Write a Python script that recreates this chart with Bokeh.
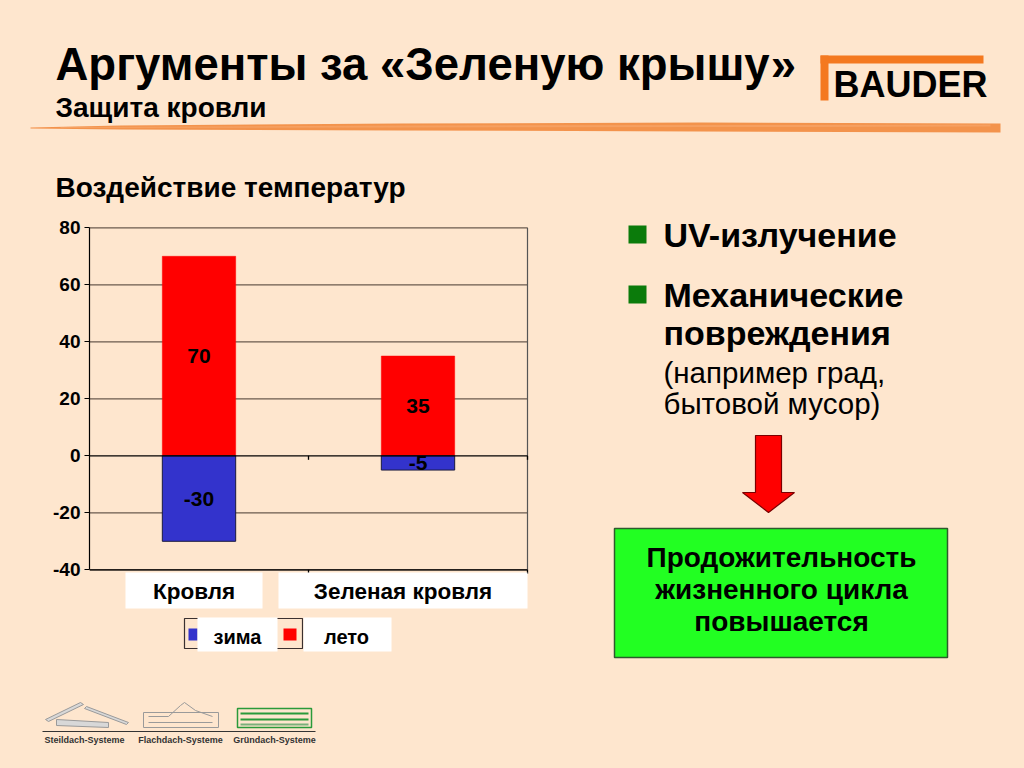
from bokeh.plotting import figure
from bokeh.models import Range1d, FixedTicker, ColumnDataSource, PrintfTickFormatter
from bokeh.layouts import column, row
from bokeh.core.properties import value
from bokeh.embed import file_html
from bokeh.resources import INLINE

# ---------------- data ----------------
categories = ["Кровля", "Зеленая кровля"]
winter = [-30, -5]      # зима
summer = [70, 35]       # лето
series_names = ["зима", "лето"]
y_ticks = [-40, -20, 0, 20, 40, 60, 80]

title_text = "Аргументы за «Зеленую крышу»"
subtitle_text = "Защита кровли"
chart_title = "Воздействие температур"
bullets = ["UV-излучение", "Механические"]
bullet2_more = ["повреждения"]
note_lines = ["(например град,", "бытовой мусор)"]
box_lines = ["Продожительность", "жизненного цикла", "повышается"]
footer_labels = ["Steildach-Systeme", "Flachdach-Systeme", "Gründach-Systeme"]

# ---------------- styles ----------------
BG = "#FEE6CE"
BLUE = "#3333CC"
RED = "#FF0000"
ORANGE = "#F47920"
ARIAL = value("Liberation Sans")


def deco_fig(w, h, x0, x1, y0, y1):
    f = figure(width=w, height=h, x_range=Range1d(x0, x1), y_range=Range1d(y1, y0),
               x_axis_location=None, y_axis_location=None, toolbar_location=None,
               title=None, output_backend="svg",
               min_border=0, min_border_left=0, min_border_right=0,
               min_border_top=0, min_border_bottom=0,
               background_fill_color=BG, border_fill_color=BG, outline_line_color=None)
    f.xgrid.visible = False
    f.ygrid.visible = False
    return f


def txt(f, x, y, s, size, style="bold", align="left", color="black"):
    f.text(x=[x], y=[y], text=[s], text_font=ARIAL, text_font_size=value(size),
           text_font_style=style, text_align=align, text_baseline="middle", text_color=color)


W, H = 1024, 768
HDR_H = 213
MID_H = 467
FT_H = H - HDR_H - MID_H

# ---------------- header ----------------
hdr = deco_fig(W, HDR_H, 0, W, 0, HDR_H)
txt(hdr, 55, 64, title_text, "45.5px")
txt(hdr, 55, 106.5, subtitle_text, "28px")
txt(hdr, 55, 186.5, chart_title, "28px")
# brush stroke
hdr.patch(x=[30, 120, 400, 700, 1000, 1000, 700, 400, 120, 30],
          y=[127, 125, 123, 122, 123, 132, 131, 130, 129, 128],
          fill_color="#F28A3E", line_color=None, fill_alpha=0.9)
hdr.patch(x=[60, 400, 800, 990, 990, 800, 400, 60],
          y=[126.5, 125, 124.5, 124, 126, 126.5, 127, 127.5],
          fill_color="#F6A466", line_color=None, fill_alpha=0.8)
# logo
hdr.quad(left=[820, 820], right=[983, 828], top=[55, 55], bottom=[63, 100],
         fill_color=ORANGE, line_color=None)
txt(hdr, 833, 84, "BAUDER", "36px")

# ---------------- chart + right panel ----------------
CH_Y0 = HDR_H
AX_LEFT = 89                   # x of value axis
PX_PER_CAT = 219.0
Y80_PX = 227.3
PX_PER_UNIT = 2.85
FRAME_L, FRAME_R, FRAME_T, FRAME_B = 89, W, 219, 665


def px2x(px):
    return (px - AX_LEFT) / PX_PER_CAT


def px2y(py):
    return 80 - (py - Y80_PX) / PX_PER_UNIT


ch = figure(width=W, height=MID_H,
            x_range=Range1d(px2x(FRAME_L), px2x(FRAME_R)),
            y_range=Range1d(px2y(FRAME_B), px2y(FRAME_T)),
            x_axis_location=None, y_axis_location="left", toolbar_location=None,
            title=None, output_backend="svg", background_fill_color=BG, border_fill_color=BG,
            outline_line_color=None,
            min_border_left=FRAME_L, min_border_right=W - FRAME_R,
            min_border_top=FRAME_T - CH_Y0, min_border_bottom=CH_Y0 + MID_H - FRAME_B)
ch.xgrid.visible = False
ch.ygrid.visible = False
ya = ch.yaxis[0]
ya.ticker = FixedTicker(ticks=y_ticks)
ya.formatter = PrintfTickFormatter(format="%d")
ya.bounds = (min(y_ticks), max(y_ticks))
ya.axis_line_color = "black"
ya.axis_line_width = 1.2
ya.major_tick_line_color = "black"
ya.major_tick_out = 5
ya.major_tick_in = 0
ya.minor_tick_line_color = None
ya.major_label_standoff = 4
ya.major_label_text_font = "Liberation Sans"
ya.major_label_text_font_size = "19px"
ya.major_label_text_font_style = "bold"
ya.major_label_text_color = "black"

n = len(categories)
xs = [i + 0.5 for i in range(n)]
ymin, ymax = min(y_ticks), max(y_ticks)

# gridlines
grid_y = [t for t in y_ticks if t != 0]
ch.segment(x0=[0] * len(grid_y), x1=[n] * len(grid_y), y0=grid_y, y1=grid_y,
           line_color="#6a5a4e", line_width=1.2)
ch.segment(x0=[n], x1=[n], y0=[ymin], y1=[ymax], line_color="#555555", line_width=1.2)

src = ColumnDataSource(dict(x=xs, cat=categories, winter=winter, summer=summer,
                            wmid=[v / 2 for v in winter], smid=[v / 2 for v in summer],
                            wl=[str(v) for v in winter], sl=[str(v) for v in summer]))
ch.vbar(x="x", width=0.335, bottom=0, top="summer", source=src,
        fill_color=RED, line_color=RED, line_width=0.5)
ch.vbar(x="x", width=0.335, bottom="winter", top=0, source=src,
        fill_color=BLUE, line_color="#1a1a40", line_width=1)

# category axis at zero and ticks
ch.segment(x0=[0], x1=[n], y0=[0], y1=[0], line_color="black", line_width=1.3)
ch.segment(x0=[0], x1=[n], y0=[ymin], y1=[ymin], line_color="black", line_width=1.3)
tick_len = 4 / PX_PER_UNIT
bx = list(range(1, n + 1))
ch.segment(x0=bx + bx, x1=bx + bx, y0=[0] * n + [ymin] * n,
           y1=[-tick_len] * n + [ymin - tick_len] * n, line_color="black", line_width=1.3)

# value labels
ch.text(x="x", y="smid", text="sl", source=src, text_font=ARIAL, text_font_size=value("21px"),
        text_font_style="bold", text_align="center", text_baseline="middle", text_color="black")
ch.text(x="x", y="wmid", text="wl", source=src, text_font=ARIAL, text_font_size=value("21px"),
        text_font_style="bold", text_align="center", text_baseline="middle", text_color="black")

# category label boxes (white)
cat_boxes = [(125, 262), (278, 527)]
ch.quad(left=[px2x(a) for a, b in cat_boxes], right=[px2x(b) for a, b in cat_boxes],
        top=[px2y(572)] * n, bottom=[px2y(608)] * n, fill_color="white", line_color=None)
ch.text(x=[px2x((a + b) / 2) for a, b in cat_boxes], y=[px2y(591)] * n, text=categories,
        text_font=ARIAL, text_font_size=value("22.5px"), text_font_style="bold",
        text_align="center", text_baseline="middle", text_color="black")

# legend
ch.quad(left=[px2x(184)], right=[px2x(302)], top=[px2y(618)], bottom=[px2y(648)],
        fill_color=None, line_color="#3a3030", line_width=1.2)
ch.quad(left=[px2x(188), px2x(283)], right=[px2x(197), px2x(296)],
        top=[px2y(628)] * 2, bottom=[px2y(640)] * 2, fill_color=[BLUE, RED], line_color=None)
ch.quad(left=[px2x(197), px2x(303)], right=[px2x(277), px2x(391)],
        top=[px2y(617)] * 2, bottom=[px2y(651)] * 2, fill_color="white", line_color=None)
ch.text(x=[px2x(237), px2x(346)], y=[px2y(636)] * 2, text=series_names,
        text_font=ARIAL, text_font_size=value("20px"), text_font_style="bold",
        text_align="center", text_baseline="middle", text_color="black")


def ptxt(x, y, s, size, style="bold", align="left"):
    ch.text(x=[px2x(x)], y=[px2y(y)], text=[s], text_font=ARIAL, text_font_size=value(size),
            text_font_style=style, text_align=align, text_baseline="middle", text_color="black")


# right panel: bullets
ch.quad(left=[px2x(628)] * 2, right=[px2x(646)] * 2, top=[px2y(225), px2y(285)],
        bottom=[px2y(243), px2y(303)], fill_color="#0B7B0B", line_color=None)
ptxt(663, 234, bullets[0], "34px")
ptxt(663, 294.5, bullets[1], "34px")
ptxt(663, 332, bullet2_more[0], "34px")
ptxt(663, 372, note_lines[0], "29.5px", style="normal")
ptxt(663, 403, note_lines[1], "29.5px", style="normal")
# arrow
ax_px = [755, 781, 781, 794, 768, 742, 755]
ay_px = [435, 435, 492, 492, 512, 492, 492]
ch.patch(x=[px2x(v) for v in ax_px], y=[px2y(v) for v in ay_px],
         fill_color=RED, line_color="#7a0000", line_width=1.2)
# green box
ch.quad(left=[px2x(614)], right=[px2x(947)], top=[px2y(528)], bottom=[px2y(657)],
        fill_color="#22FF22", line_color="#2d5a2d", line_width=1.5)
for i, s in enumerate(box_lines):
    ptxt(781, 557 + 32 * i, s, "28px", align="center")

# ---------------- footer ----------------
ft = deco_fig(W, FT_H, 0, W, HDR_H + MID_H, H)
ft.line(x=[42, 315], y=[731, 731], line_color="#333333", line_width=1)
# steep roof icon
ft.patch(x=[45, 80, 83, 48], y=[719, 702, 704, 721], fill_color="#d8d8d8", line_color="#9a9a9a")
ft.patch(x=[86, 128, 126, 84], y=[706, 722, 724, 708], fill_color="#d8d8d8", line_color="#9a9a9a")
ft.patch(x=[56, 108, 108, 56], y=[719, 722, 727, 725], fill_color="#d8d8d8", line_color="#9a9a9a")
# flat roof icon
ft.quad(left=[143], right=[218], top=[712], bottom=[727], fill_color=None, line_color="#9a9a9a")
ft.line(x=[148, 168, 180, 184, 195, 212], y=[716, 716, 705, 702, 710, 716], line_color="#9a9a9a")
ft.line(x=[148, 212], y=[722, 722], line_color="#9a9a9a")
# green roof icon
ft.quad(left=[237], right=[311], top=[708], bottom=[727], fill_color=None, line_color="#2a9a3a", line_width=1.5)
ft.line(x=[240, 308], y=[713, 713], line_color="#2a9a3a", line_width=2)
ft.line(x=[240, 308], y=[719, 719], line_color="#2a9a3a", line_width=2)
ft.line(x=[240, 308], y=[724, 724], line_color="#7ab07a", line_width=2)
ft.text(x=[84, 180, 274], y=[739] * 3, text=footer_labels, text_font=ARIAL,
        text_font_size=value("9px"), text_font_style="bold", text_align="center",
        text_baseline="middle", text_color="#333333")

layout = column(hdr, row(ch, styles={"background-color": BG}), ft,
                styles={"background-color": BG})
open("out.html", "w").write(file_html(layout, INLINE))
